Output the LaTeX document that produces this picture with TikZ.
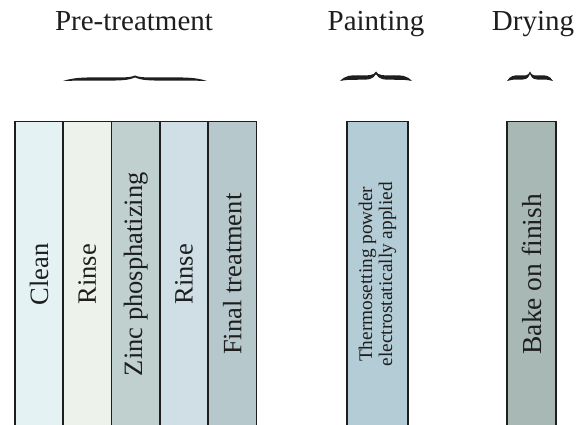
\documentclass[tikz,border=0pt]{standalone}
\usepackage{fontspec}
\setmainfont{Liberation Serif}
\definecolor{cClean}{HTML}{E4F2F3}
\definecolor{cRinseA}{HTML}{EDF3EA}
\definecolor{cZinc}{HTML}{C0D0CF}
\definecolor{cRinseB}{HTML}{CFDFE5}
\definecolor{cFinal}{HTML}{B6C8CC}
\definecolor{cPaint}{HTML}{B4CCD6}
\definecolor{cDry}{HTML}{A8B8B4}
\definecolor{inkcol}{HTML}{1E1E1E}
\newcommand\mybrace[6]{%
 \pgfmathsetmacro\braceW{(#2-#1)/2}%
 \pgfmathsetmacro\braceM{#1+\braceW}%
 \pgfmathsetmacro\braceT{#6/2}%
 \fill[inkcol] (#1,#3)
  .. controls ({#1+0.15*\braceW},{#4-\braceT}) and ({#1+0.3*\braceW},{#4-\braceT}) .. ({#1+0.5*\braceW},{#4-\braceT})
  .. controls ({\braceM-0.2*\braceW},{#4-\braceT}) and ({\braceM-0.08*\braceW},{#4-\braceT*0.6}) .. (\braceM,#5)
  .. controls ({\braceM+0.08*\braceW},{#4-\braceT*0.6}) and ({\braceM+0.2*\braceW},{#4-\braceT}) .. ({#2-0.5*\braceW},{#4-\braceT})
  .. controls ({#2-0.3*\braceW},{#4-\braceT}) and ({#2-0.15*\braceW},{#4-\braceT}) .. (#2,#3)
  .. controls ({#2-0.15*\braceW},{#4+\braceT}) and ({#2-0.3*\braceW},{#4+\braceT}) .. ({#2-0.5*\braceW},{#4+\braceT})
  .. controls ({\braceM+0.2*\braceW},{#4+\braceT}) and ({\braceM+0.1*\braceW},{#4+\braceT}) .. (\braceM,{#5+#6*0.6})
  .. controls ({\braceM-0.1*\braceW},{#4+\braceT}) and ({\braceM-0.2*\braceW},{#4+\braceT}) .. ({#1+0.5*\braceW},{#4+\braceT})
  .. controls ({#1+0.3*\braceW},{#4+\braceT}) and ({#1+0.15*\braceW},{#4+\braceT}) .. cycle;%
}
\begin{document}
\begin{tikzpicture}[x=1pt,y=-1pt,
  head/.style={anchor=base, inner sep=0pt, text=inkcol, font=\fontsize{29}{34}\selectfont},
  bar/.style={draw=inkcol, line width=1.4pt, rotate=90, inner sep=0pt, text=inkcol,
    font=\fontsize{26.5}{30}\selectfont, minimum width=305.5pt, align=center}]
\clip (0,0) rectangle (587,425);
\fill[white] (0,0) rectangle (587,425);
% headings
\node[head] (pre) at (134,31) {Pre-treatment};
\node[head] (pnt) at (376,31) {Painting};
\node[head] (dry) at (533,31) {Drying};
% braces
\mybrace{63}{207}{81}{79}{75.5}{3.2}
\mybrace{340}{412}{81}{77.5}{71.5}{4.5}
\mybrace{507}{553}{81}{77.5}{71.5}{4.2}
% bars
\node[bar, fill=cClean,  minimum height=48pt]   (clean) at (39,274.25) {Clean};
\node[bar, fill=cRinseA, minimum height=48.5pt] (rinA)  at (87.25,274.25) {Rinse};
\node[bar, fill=cZinc,   minimum height=48.5pt] (zinc)  at (135.75,274.25) {Zinc phosphatizing};
\node[bar, fill=cRinseB, minimum height=48pt]   (rinB)  at (184,274.25) {Rinse};
\node[bar, fill=cFinal,  minimum height=48.5pt] (final) at (232.25,274.25) {Final treatment};
\node[bar, fill=cPaint,  minimum height=61pt, font=\fontsize{19.3}{20}\selectfont] (paint) at (377.5,274.25) {Thermosetting powder\\electrostatically applied};
\node[bar, fill=cDry,    minimum height=49pt, font=\fontsize{27.5}{30}\selectfont] (bake) at (531.5,274.25) {Bake on finish};
\end{tikzpicture}
\end{document}
